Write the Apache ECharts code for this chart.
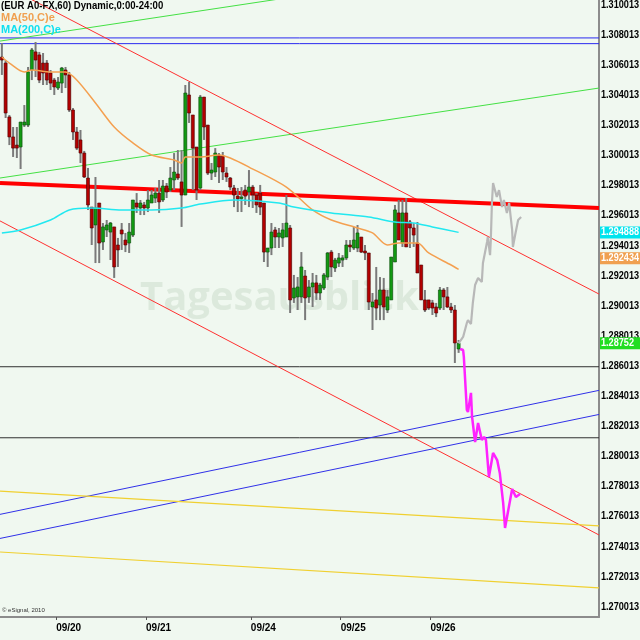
<!DOCTYPE html>
<html><head><meta charset="utf-8">
<script src="https://cdn.jsdelivr.net/npm/echarts@6/dist/echarts.min.js"></script>
<style>html,body{margin:0;padding:0;background:#f0f8f0}#c{width:640px;height:640px}</style>
</head><body><div id="c"></div><script>
// ---- data (prices) ----
const opens=[1.30654,1.30614,1.30256,1.30123,1.30069,1.30056,1.30202,1.30202,1.30568,1.30688,
1.30668,1.30614,1.30614,1.30548,1.30501,1.30448,1.30481,1.30568,1.30535,1.30302,
1.30156,1.30103,1.30016,1.29850,1.29657,1.29538,1.29684,1.29425,1.29505,1.29491,
1.29525,1.29405,1.29505,1.29438,1.29418,1.29471,1.29684,1.29651,1.29671,1.29651,
1.29684,1.29717,1.29750,1.29704,1.29797,1.29770,1.29837,1.29877,1.29824,1.29737,
1.30402,1.30269,1.30056,1.29784,1.30388,1.30202,1.29883,1.29890,1.30003,1.29996,
1.29883,1.29850,1.29784,1.29730,1.29717,1.29770,1.29757,1.29790,1.29737,1.29750,
1.29684,1.29358,1.29385,1.29505,1.29458,1.29452,1.29458,1.29518,1.29053,1.29060,
1.29060,1.29199,1.29060,1.29126,1.29153,1.29086,1.29119,1.29192,1.29358,1.29252,
1.29285,1.29305,1.29319,1.29405,1.29385,1.29385,1.29458,1.29365,1.29352,1.28993,
1.29040,1.29006,1.29106,1.28973,1.29040,1.29292,1.29618,1.29418,1.29618,1.29558,
1.29518,1.29418,1.29272,1.29040,1.29040,1.29020,1.28993,1.28986,1.29106,1.29060,
1.28993,1.28973,1.28714];
const closes=[1.30634,1.30282,1.30123,1.30049,1.30049,1.30222,1.30222,1.30555,1.30701,1.30634,
1.30501,1.30548,1.30501,1.30481,1.30455,1.30488,1.30581,1.30535,1.30302,1.30156,
1.30049,1.30016,1.29857,1.29671,1.29518,1.29651,1.29418,1.29525,1.29538,1.29551,
1.29259,1.29372,1.29478,1.29405,1.29491,1.29704,1.29657,1.29684,1.29651,1.29704,
1.29737,1.29750,1.29691,1.29797,1.29757,1.29850,1.29890,1.29850,1.29737,1.30415,
1.30282,1.30049,1.29770,1.30388,1.30189,1.29883,1.29903,1.30016,1.29923,1.29890,
1.29857,1.29790,1.29737,1.29711,1.29724,1.29730,1.29790,1.29737,1.29671,1.29657,
1.29358,1.29385,1.29491,1.29458,1.29485,1.29505,1.29551,1.29040,1.29119,1.29126,
1.29259,1.29053,1.29126,1.29153,1.29086,1.29139,1.29206,1.29352,1.29259,1.29305,
1.29319,1.29319,1.29405,1.29392,1.29438,1.29485,1.29358,1.29352,1.29026,1.29026,
1.28986,1.29106,1.28993,1.29060,1.29325,1.29638,1.29438,1.29618,1.29392,1.29518,
1.29471,1.29219,1.29040,1.28973,1.28986,1.28986,1.28953,1.29106,1.29060,1.28993,
1.28973,1.28754,1.28752];
const lows=[1.30535,1.30249,1.30069,1.29990,1.29983,1.29910,1.30189,1.30189,1.30501,1.30521,
1.30481,1.30468,1.30468,1.30435,1.30402,1.30435,1.30415,1.30448,1.30289,1.30103,
1.30036,1.29950,1.29850,1.29638,1.29405,1.29285,1.29285,1.29372,1.29458,1.29305,
1.29186,1.29259,1.29372,1.29358,1.29352,1.29458,1.29618,1.29604,1.29604,1.29624,
1.29684,1.29684,1.29618,1.29691,1.29717,1.29757,1.29770,1.29837,1.29525,1.29737,
1.30216,1.29770,1.29704,1.29770,1.30103,1.29870,1.29837,1.29857,1.29817,1.29837,
1.29824,1.29770,1.29657,1.29624,1.29624,1.29671,1.29657,1.29651,1.29618,1.29604,
1.29292,1.29259,1.29338,1.29385,1.29385,1.29392,1.29458,1.28953,1.29020,1.28973,
1.29020,1.28906,1.29020,1.28993,1.29040,1.29040,1.29106,1.29172,1.29192,1.29226,
1.29259,1.29259,1.29305,1.29358,1.29372,1.29358,1.29352,1.29305,1.28973,1.28840,
1.28906,1.28906,1.28906,1.28953,1.29040,1.29292,1.29438,1.29392,1.29392,1.29385,
1.29392,1.29219,1.29040,1.28960,1.28973,1.28940,1.28926,1.28973,1.28973,1.28986,
1.28953,1.28621,1.28688];
const highs=[1.30747,1.30634,1.30269,1.30189,1.30189,1.30222,1.30335,1.30588,1.30714,1.30754,
1.30688,1.30681,1.30634,1.30568,1.30515,1.30521,1.30588,1.30588,1.30555,1.30315,
1.30189,1.30169,1.30030,1.29917,1.29657,1.29857,1.29684,1.29551,1.29571,1.29558,
1.29525,1.29452,1.29551,1.29485,1.29551,1.29704,1.29750,1.29704,1.29691,1.29770,
1.29770,1.29784,1.29837,1.29837,1.29817,1.29923,1.30016,1.30036,1.30036,1.30468,
1.30488,1.30269,1.30056,1.30402,1.30388,1.30202,1.29950,1.30049,1.30016,1.30023,
1.29923,1.29857,1.29804,1.29784,1.29790,1.29804,1.29903,1.29804,1.29750,1.29804,
1.29684,1.29385,1.29551,1.29525,1.29518,1.29551,1.29737,1.29538,1.29206,1.29192,
1.29358,1.29239,1.29172,1.29219,1.29206,1.29153,1.29219,1.29358,1.29372,1.29319,
1.29352,1.29338,1.29438,1.29438,1.29525,1.29538,1.29458,1.29405,1.29352,1.29086,
1.29259,1.29192,1.29186,1.29106,1.29325,1.29671,1.29704,1.29704,1.29717,1.29571,
1.29551,1.29558,1.29272,1.29106,1.29040,1.29040,1.29020,1.29126,1.29119,1.29126,
1.29020,1.29006,1.28774];
// MA(50) and MA(200): [bar index, price]
const ma50=[[0,1.30654],[2,1.30614],[6,1.30555],[8,1.30568],[13,1.30555],[17,1.30555],[20,1.30501],
[25,1.30349],[30,1.30189],[35,1.30083],[40,1.30003],[46,1.29970],[48,1.29950],[49,1.29990],
[53,1.29990],[58,1.30003],[61,1.29983],[66,1.29923],[76,1.29790],[83,1.29638],[88,1.29571],
[95,1.29518],[99,1.29485],[103,1.29405],[106,1.29418],[111,1.29418],[114,1.29352],[120,1.29272],[122,1.292434]];
const ma200=[[0,1.29485],[5,1.29505],[13,1.29571],[18,1.29638],[24,1.29651],[32,1.29638],[40,1.29638],
[48,1.29651],[53,1.29677],[62,1.29704],[74,1.29684],[78,1.29657],[88,1.29618],[98,1.29591],
[105,1.29558],[110,1.29551],[115,1.29525],[122,1.294888]];
// projections: [bar position, price]
const projGray=[[122,1.28752],[123.2,1.28794],[124.2,1.28887],[124.5,1.28906],[125.3,1.28880],[125.8,1.29020],
[126.4,1.29139],[127.2,1.29186],[128.2,1.29159],[128.5,1.29285],[129.6,1.29425],[129.8,1.29458],[130.4,1.29338],
[130.6,1.29438],[130.9,1.29684],[131.2,1.29817],[132.2,1.29724],[132.8,1.29770],[133.6,1.29657],[134.1,1.29704],
[134.9,1.29618],[135.5,1.29684],[136.3,1.29505],[136.5,1.29392],[137.1,1.29471],[137.9,1.29571],[138.7,1.29591]];
const projMagenta=[[122.4,1.28714],[123.2,1.28707],[123.4,1.28661],[124.2,1.28309],[124.5,1.28295],[125.3,1.28422],
[125.6,1.28262],[126.4,1.28096],[127.2,1.28222],[128.2,1.28109],[128.8,1.28129],[129.3,1.28109],[130.1,1.27863],
[131.2,1.28023],[132.3,1.27976],[133.0,1.27890],[133.9,1.27691],[134.4,1.27525],[136.3,1.27784],[137.3,1.27730],[138.4,1.27750]];
// drawn levels / trend lines (price at left edge, price at right edge)
const blueLevels=[1.30781,1.30743];
const blackLevels=[1.28596,1.28124];
const greenTrends=[[1.29850,1.30448],[1.30760,1.31360]];
const redTrends=[[1.31145,1.29079],[1.29565,1.27478]];
const redThick=[1.29817,1.29651];
const blueTrends=[[1.27615,1.28439],[1.27455,1.28279]];
const yellowTrends=[[1.27770,1.27538],[1.27365,1.27126]];
const priceTicks=[1.270013,1.272013,1.274013,1.276013,1.278013,1.280013,1.282013,1.284013,1.286013,1.288013,
1.290013,1.292013,1.294013,1.296013,1.298013,1.300013,1.302013,1.304013,1.306013,1.308013,1.310013];
const dateLabels=['09/20','09/21','09/24','09/25','09/26'];
const dateTickBars=[15,39,67,91,115];
const lastPrice=1.28752, lastMA50=1.292434, lastMA200=1.294888;
const slots=160;

// ---- build ----
const cats=[]; for(let i=0;i<slots;i++) cats.push(String(i));
const candleData=opens.map((o,i)=>[i,o,closes[i],lows[i],highs[i]]);
const center=arr=>arr.map(p=>[p[0]+0.5,p[1]]);
const FONT='"Liberation Sans", Arial, sans-serif';

function seg(vals,color,width,z){
  return {type:'line',xAxisIndex:1,yAxisIndex:0,data:[[0,vals[0]],[slots,vals[1]]],symbol:'none',silent:true,
    lineStyle:{color:color,width:width},z:z||1,animation:false};
}
const series=[];
blueLevels.forEach(v=>series.push(seg([v,v],'#2a2af0',1)));
blackLevels.forEach(v=>series.push(seg([v,v],'#303030',1)));
greenTrends.forEach(t=>series.push(seg(t,'#44e044',1)));
redTrends.forEach(t=>series.push(seg(t,'#ff3030',1)));
blueTrends.forEach(t=>series.push(seg(t,'#3030e8',1)));
yellowTrends.forEach(t=>series.push(seg(t,'#f0d030',1.2)));
series.push(seg(redThick,'#ff0000',4,2));

series.push({type:'custom',xAxisIndex:0,yAxisIndex:0,data:candleData,encode:{x:0,y:[1,2,3,4]},clip:true,z:3,animation:false,
  renderItem:function(params,api){
    const i=api.value(0),o=api.value(1),c=api.value(2),l=api.value(3),h=api.value(4);
    const pH=api.coord([i,h]),pL=api.coord([i,l]),pO=api.coord([i,o]),pC=api.coord([i,c]);
    const x=pH[0];const up=c>=o;
    const top=Math.min(pO[1],pC[1]),bot=Math.max(pO[1],pC[1]);
    return {type:'group',children:[
      {type:'rect',shape:{x:x-1,y:pH[1],width:2,height:Math.max(1,pL[1]-pH[1])},style:{fill:'#7a7a7a'}},
      {type:'rect',shape:{x:x-1.5,y:top,width:3,height:Math.max(1.5,bot-top)},
        style:{fill:up?'#129a12':'#b40000',stroke:up?'#0a4a0a':'#4a0000',lineWidth:0.6}}
    ]};
  }});

series.push({type:'line',xAxisIndex:1,yAxisIndex:0,data:center(ma50),symbol:'none',smooth:0.3,silent:true,z:4,animation:false,
  lineStyle:{color:'#f4a050',width:1.5}});
series.push({type:'line',xAxisIndex:1,yAxisIndex:0,data:center(ma200),symbol:'none',smooth:0.3,silent:true,z:4,animation:false,
  lineStyle:{color:'#22e8f0',width:1.5}});
series.push({type:'line',xAxisIndex:1,yAxisIndex:0,data:center(projGray),symbol:'none',silent:true,z:4,animation:false,
  lineStyle:{color:'#b8b8b8',width:2.2}});
series.push({type:'line',xAxisIndex:1,yAxisIndex:0,data:center(projMagenta),symbol:'none',silent:true,z:5,animation:false,
  lineStyle:{color:'#ff22ff',width:2.5}});

const chart=echarts.init(document.getElementById('c'),null,{renderer:'canvas'});
chart.setOption({
  animation:false,backgroundColor:'#f0f8f0',
  grid:{left:0,right:41,top:0,bottom:23,containLabel:false,outerBoundsMode:'none'},
  xAxis:[
    {type:'category',data:cats,boundaryGap:true,show:false},
    {type:'value',min:0,max:slots,position:'bottom',splitLine:{show:false},
     axisLine:{show:true,onZero:false,lineStyle:{color:'#8c8c8c',width:2}},
     axisTick:{show:true,customValues:dateTickBars,length:3,lineStyle:{color:'#555'}},
     axisLabel:{customValues:dateTickBars,formatter:v=>dateLabels[dateTickBars.indexOf(v)],align:'left',margin:6,
       color:'#000',fontFamily:FONT,fontSize:10,fontWeight:'bold'}}
  ],
  yAxis:{type:'value',position:'right',min:1.26933,max:1.31033,splitLine:{show:false},
    axisLine:{show:true,onZero:false,lineStyle:{color:'#8c8c8c',width:2}},axisTick:{show:false},
    axisLabel:{show:false}},
  series:series
});

// price scale labels and last-value tags, positioned through the y axis scale
const yPix=v=>chart.convertToPixel({yAxisIndex:0},v);
const SX=0.83;
const gr=[
  {type:'text',left:140,top:279,z:0,silent:true,style:{text:'Tagesausblick',fill:'rgba(175,198,175,0.3)',font:'bold 40px "Open Sans", sans-serif'}},
  {type:'text',x:1,y:0,scaleX:0.87,z:10,style:{text:'(EUR A0-FX,60) Dynamic,0:00-24:00',fill:'#000',font:'bold 11px '+FONT}},
  {type:'text',x:1,y:12,z:10,style:{text:'MA(50,C)e',fill:'#f0a050',font:'bold 11px '+FONT}},
  {type:'text',x:1,y:24,z:10,style:{text:'MA(200,C)e',fill:'#10e0f0',font:'bold 11px '+FONT}},
  {type:'text',x:2,y:607,z:10,style:{text:'© eSignal, 2010',fill:'#333',font:'6px '+FONT}}
];
priceTicks.forEach(v=>gr.push({type:'text',x:601,y:yPix(v),scaleX:SX,z:20,silent:true,
  style:{text:v.toFixed(6),fill:'#000',font:'bold 11px '+FONT,verticalAlign:'middle',align:'left'}}));
const tags=[[lastMA200,'#00e4ee',0,6],[lastMA50,'#f0a050',-11,6],[lastPrice,'#22dd22',0,5]];
tags.forEach(t=>{
  const y=yPix(t[0])+t[2];
  gr.push({type:'rect',z:30,silent:true,shape:{x:600,y:y-6,width:40,height:12},style:{fill:t[1]}});
  gr.push({type:'text',x:601,y:y,scaleX:SX,z:31,silent:true,
    style:{text:t[0].toFixed(t[3]),fill:'#fff',font:'bold 11px '+FONT,verticalAlign:'middle',align:'left'}});
});
chart.setOption({graphic:gr});
</script></body></html>
